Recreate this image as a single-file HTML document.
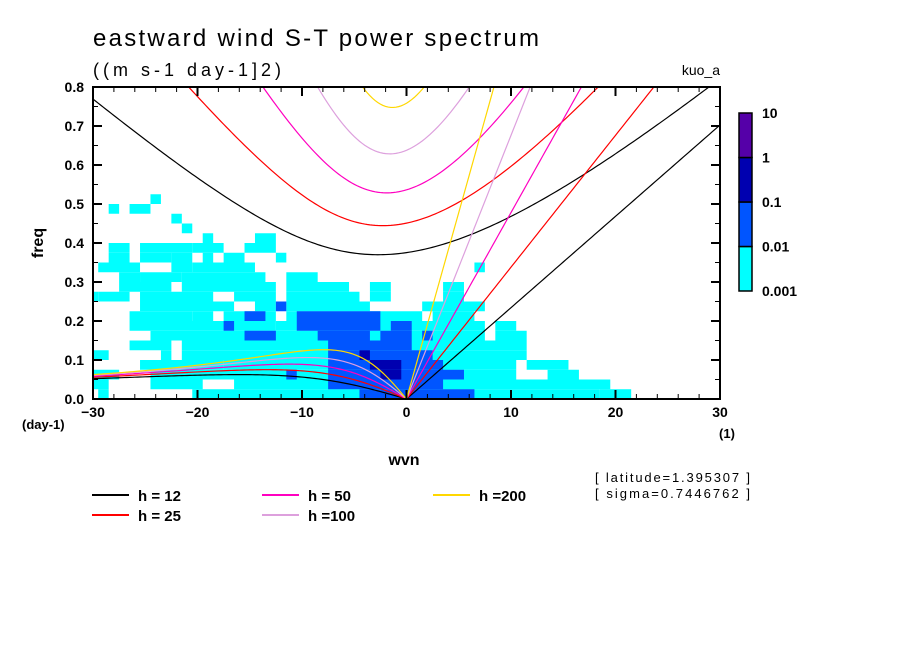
<!DOCTYPE html>
<html><head><meta charset="utf-8"><style>
html,body{margin:0;padding:0;background:#fff;}
svg{display:block;font-family:"Liberation Sans",sans-serif;}
</style></head><body>
<svg id="chart" width="904" height="654" viewBox="0 0 904 654">
<rect width="904" height="654" fill="#fff"/>
<text x="93" y="46" font-size="24" textLength="446" lengthAdjust="spacing">eastward wind S-T power spectrum</text>
<text x="93" y="76" font-size="18" textLength="188" lengthAdjust="spacing">((m s-1 day-1]2)</text>
<text x="720" y="75" font-size="14" text-anchor="end">kuo_a</text>
<g id="shade"></g>
<g id="curves"></g>
<g id="axes"></g>
<text x="43" y="243" font-size="16" font-weight="bold" text-anchor="middle" transform="rotate(-90 43 243)">freq</text>
<text x="404" y="465" font-size="16" font-weight="bold" text-anchor="middle">wvn</text>
<text x="22" y="429" font-size="13" font-weight="bold">(day-1)</text>
<text x="727" y="438" font-size="13" font-weight="bold" text-anchor="middle">(1)</text>
<g id="colorbar"></g>
<g id="legend"></g>
<text x="595" y="482" font-size="13" textLength="155" lengthAdjust="spacing">[ latitude=1.395307 ]</text>
<text x="595" y="498" font-size="13" textLength="155" lengthAdjust="spacing">[ sigma=0.7446762 ]</text>
</svg>
<script>
// ---- data ----
const depths = [12, 25, 50, 100, 200];
const depthColors = ["#000000", "#ff0000", "#ff00c0", "#dda0dd", "#ffd700"];
const legendLabels = ["h = 12", "h = 25", "h = 50", "h =100", "h =200"];
const xTicks = [-30, -20, -10, 0, 10, 20, 30];
const yTicks = [0.0, 0.1, 0.2, 0.3, 0.4, 0.5, 0.6, 0.7, 0.8];
const levelLabels = ["10", "1", "0.1", "0.01", "0.001"];
const levelColors = ["#00ffff", "#0055ff", "#0000b0", "#5500a8"];
const freqStep = 0.025;
// runs: [band index (freq/0.025), wvn col start (0=-30), col end]
const cyanRuns = [[20,6,6],[19,2,2],[19,4,5],[18,8,8],[17,9,9],[16,11,11],[16,16,17],
[15,2,3],[15,5,9],[15,10,12],[15,15,17],
[14,2,3],[14,5,7],[14,8,9],[14,11,11],[14,13,14],[14,18,18],
[13,1,4],[13,8,9],[13,10,15],[13,37,37],
[12,3,4],[12,5,8],[12,9,16],[12,19,21],
[11,3,7],[11,9,17],[11,19,24],[11,27,28],[11,34,35],
[10,0,0],[10,1,3],[10,5,11],[10,14,17],[10,19,25],[10,27,28],[10,34,35],
[9,5,13],[9,16,17],[9,19,26],[9,32,37],
[8,4,9],[8,10,11],[8,13,17],[8,19,31],[8,33,36],
[7,4,17],[7,18,37],[7,39,40],
[6,6,22],[6,23,37],[6,39,41],
[5,4,7],[5,9,41],
[4,0,1],[4,7,7],[4,9,41],
[3,5,12],[3,13,40],[3,42,45],
[2,0,2],[2,6,40],[2,44,46],
[1,0,1],[1,6,10],[1,14,49],
[0,1,1],[0,10,48],[0,49,51]];
const blueRuns = [[9,18,18],[8,15,16],[8,20,27],[7,13,13],[7,20,27],[7,29,30],
[6,15,17],[6,22,26],[6,28,30],[6,32,32],[5,23,30],[4,23,32],[3,23,33],
[2,19,19],[2,23,35],[1,23,33],[0,26,36]];
const darkRuns = [[4,26,26],[3,27,29],[2,28,29]];

// ---- scales ----
const X0 = 93, X1 = 720, Y0 = 399, Y1 = 87;
const xS = w => X0 + (w + 30) / 60 * (X1 - X0);
const yS = f => Y0 - f / 0.8 * (Y0 - Y1);
const NS = "http://www.w3.org/2000/svg";
function mk(tag, attrs, parent) {
  const e = document.createElementNS(NS, tag);
  for (const k in attrs) e.setAttribute(k, attrs[k]);
  parent.appendChild(e);
  return e;
}

// ---- shading ----
const shade = document.getElementById('shade');
function drawRuns(runs, color, nm) {
  runs.forEach(r => {
    const xa = xS(r[1] - 30 - 0.5), xb = xS(r[2] - 30 + 0.5);
    const ya = yS((r[0] + 1) * freqStep), yb = yS(r[0] * freqStep);
    const L = Math.max(xa, X0), R = Math.min(xb, X1);
    const el = mk('rect', {x: L, y: ya, width: R - L, height: yb - ya, fill: color}, shade);
    
    
  });
}
drawRuns(cyanRuns, levelColors[0], 'shade-0.001');
drawRuns(blueRuns, levelColors[1], 'shade-0.01');
drawRuns(darkRuns, levelColors[2], 'shade-0.1');

// ---- dispersion curves ----
const g = 9.81, R = 6.371e6, beta = 2 * 7.292e-5 / R, toCpd = 86400 / (2 * Math.PI);
const curves = document.getElementById('curves');
mk('clipPath', {id: 'clip'}, curves).appendChild(document.createElementNS(NS, 'rect'));
const cr = curves.querySelector('clipPath rect');
cr.setAttribute('x', X0); cr.setAttribute('y', Y1); cr.setAttribute('width', X1 - X0); cr.setAttribute('height', Y0 - Y1);
const cg = mk('g', {'clip-path': 'url(#clip)'}, curves);
function igRoot(k, c) {
  let w = Math.sqrt(c * c * k * k + 3 * beta * c) * 1.2 + 1e-6;
  for (let i = 0; i < 60; i++) {
    const f = w * w * w - c * c * (k * k + 3 * beta / c) * w - beta * c * c * k;
    const d = 3 * w * w - c * c * (k * k + 3 * beta / c);
    w -= f / d;
  }
  return w;
}
function poly(pts, col, nm) {
  const el = mk('polyline', {points: pts.map(p => p[0].toFixed(2) + ',' + p[1].toFixed(2)).join(' '), fill: 'none', stroke: col, 'stroke-width': 1.2}, cg);
  
  
}
depths.forEach((h, i) => {
  const c = Math.sqrt(g * h), col = depthColors[i];
  const ig = [], ro = [], ke = [];
  for (let s = -30; s <= 30.001; s += 0.25) {
    const k = s / R;
    ig.push([xS(s), yS(igRoot(k, c) * toCpd)]);
    if (s <= 0) ro.push([xS(s), yS(-beta * k / (k * k + 3 * beta / c) * toCpd)]);
    if (s >= 0) ke.push([xS(s), yS(c * k * toCpd)]);
  }
  poly(ig, col, 'ig-curve-h' + h);
  poly(ro, col, 'rossby-curve-h' + h);
  poly(ke, col, 'kelvin-line-h' + h);
});

// ---- axes ----
const ax = document.getElementById('axes');
mk('rect', {x: X0, y: Y1, width: X1 - X0, height: Y0 - Y1, fill: 'none', stroke: '#000', 'stroke-width': 2}, ax);
for (let w = -30; w <= 30; w += 2) {
  const big = w % 10 === 0, L = big ? 9 : 5, x = xS(w);
  mk('line', {x1: x, y1: Y0, x2: x, y2: Y0 - L, stroke: '#000', 'stroke-width': big ? 2 : 1}, ax);
  mk('line', {x1: x, y1: Y1, x2: x, y2: Y1 + L, stroke: '#000', 'stroke-width': big ? 2 : 1}, ax);
}
for (let j = 0; j <= 16; j++) {
  const f = j * 0.05, big = j % 2 === 0, L = big ? 9 : 5, y = yS(f);
  mk('line', {x1: X0, y1: y, x2: X0 + L, y2: y, stroke: '#000', 'stroke-width': big ? 2 : 1}, ax);
  mk('line', {x1: X1, y1: y, x2: X1 - L, y2: y, stroke: '#000', 'stroke-width': big ? 2 : 1}, ax);
}
xTicks.forEach(v => {
  const t = mk('text', {x: xS(v), y: 417, 'font-size': 14, 'font-weight': 'bold', 'text-anchor': 'middle'}, ax);
  t.textContent = v < 0 ? '\u2212' + Math.abs(v) : String(v);
  
  
});
yTicks.forEach(v => {
  const t = mk('text', {x: 84, y: yS(v) + 5, 'font-size': 14, 'font-weight': 'bold', 'text-anchor': 'end'}, ax);
  t.textContent = v.toFixed(1);
  
  
});

// ---- colorbar ----
const cb = document.getElementById('colorbar');
const cbTop = 113, cbBot = 291, seg = (cbBot - cbTop) / 4;
for (let i = 0; i < 4; i++) {
  const el = mk('rect', {x: 739, y: cbBot - (i + 1) * seg, width: 13, height: seg, fill: levelColors[i], stroke: '#000', 'stroke-width': 1.5}, cb);
  
  
}
levelLabels.forEach((s, i) => {
  const t = mk('text', {x: 762, y: cbTop + i * seg + 5, 'font-size': 14, 'font-weight': 'bold'}, cb);
  t.textContent = s;
  
  
});

// ---- legend ----
const lg = document.getElementById('legend');
const lgX = [92, 262, 433], lgY = [495, 515];
legendLabels.forEach((s, i) => {
  const col = Math.floor(i / 2), row = i % 2;
  const x = lgX[col], y = lgY[row];
  const l = mk('line', {x1: x, y1: y, x2: x + 37, y2: y, stroke: depthColors[i], 'stroke-width': 2}, lg);
  
  
  const t = mk('text', {x: x + 46, y: y + 6, 'font-size': 15, 'font-weight': 'bold'}, lg);
  t.textContent = s;
  
  
});
</script>
</body></html>
